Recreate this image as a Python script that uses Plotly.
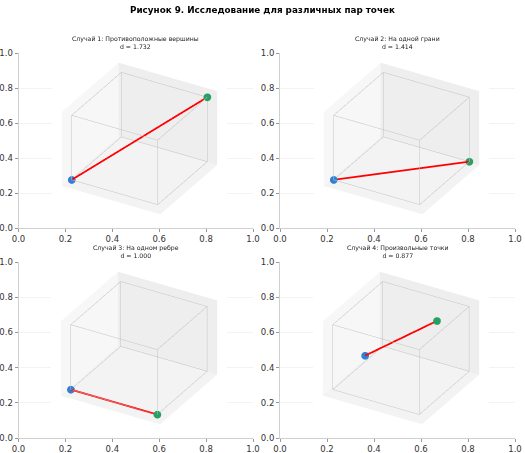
import numpy as np
import plotly.graph_objects as go

# ---------------- data ----------------
case_titles = [
    "Случай 1: Противоположные вершины",
    "Случай 2: На одной грани",
    "Случай 3: На одном ребре",
    "Случай 4: Произвольные точки",
]
start_x = [0.0, 0.0, 0.0, 0.2]
start_y = [0.0, 0.0, 0.0, 0.3]
start_z = [0.0, 0.0, 0.0, 0.4]
end_x = [1.0, 1.0, 1.0, 0.8]
end_y = [1.0, 1.0, 0.0, 0.7]
end_z = [1.0, 0.0, 0.0, 0.9]
cube_lo, cube_hi = 0.0, 1.0
tick_vals = [0.0, 0.2, 0.4, 0.6, 0.8, 1.0]
tick_text = ["0.0", "0.2", "0.4", "0.6", "0.8", "1.0"]
fig_title = "Рисунок 9. Исследование для различных пар точек"

# ---------------- layout geometry (pixels) ----------------
W, H = 525, 453
col_px = [(18.5, 253.0), (280.0, 515.0)]
row_px = [(53.0, 228.0), (262.0, 438.0)]
scene_dx, scene_dy = 3.5, -2.5   # small nudge of the 3D viewport (px)

def px_x(a, b):
    return [a / W, b / W]

def px_y(top, bottom):
    return [1 - bottom / H, 1 - top / H]

fig = go.Figure()

# cube edges
corners = [(x, y, z) for x in (cube_lo, cube_hi) for y in (cube_lo, cube_hi) for z in (cube_lo, cube_hi)]
ex, ey, ez = [], [], []
for i in range(len(corners)):
    for j in range(i + 1, len(corners)):
        a, b = corners[i], corners[j]
        if sum(1 for k in range(3) if a[k] != b[k]) == 1:
            ex += [a[0], b[0], None]
            ey += [a[1], b[1], None]
            ez += [a[2], b[2], None]

pad = 0.073
eye_dir = np.array([np.cos(np.radians(30)) * np.cos(np.radians(-60)),
                    np.cos(np.radians(30)) * np.sin(np.radians(-60)),
                    np.sin(np.radians(30))])
eye_k = 2.0
zoom = 1.3

annotations = []
for idx in range(4):
    r, c = divmod(idx, 2)
    n = idx + 1
    sfx = "" if n == 1 else str(n)
    x0, x1 = col_px[c]
    y0, y1 = row_px[r]
    # 2D background axes
    fig.add_trace(go.Scatter(x=[None], y=[None], xaxis="x" + sfx, yaxis="y" + sfx,
                             showlegend=False, hoverinfo="skip"))
    ax_common = dict(range=[0, 1], tickvals=tick_vals, ticktext=tick_text,
                     showgrid=True, gridcolor="#f3f3f3", gridwidth=1,
                     zeroline=False, showline=True, linecolor="#d0d0d0", linewidth=1,
                     ticks="outside", ticklen=3, tickcolor="#999999", tickwidth=1,
                     tickfont=dict(family="DejaVu Sans", size=8.5, color="#333333"),
                     fixedrange=True, automargin=False)
    fig.layout["xaxis" + sfx] = dict(domain=px_x(x0, x1), anchor="y" + sfx, **ax_common)
    fig.layout["yaxis" + sfx] = dict(domain=px_y(y0, y1), anchor="x" + sfx, **ax_common)

    # 3D scene (square, centered)
    side = y1 - y0
    cx = (x0 + x1) / 2
    scene_name = "scene" + sfx
    d = np.sqrt((end_x[idx] - start_x[idx]) ** 2 + (end_y[idx] - start_y[idx]) ** 2 + (end_z[idx] - start_z[idx]) ** 2)

    fig.add_trace(go.Scatter3d(x=ex, y=ey, z=ez, mode="lines", scene=scene_name,
                               line=dict(color="#c4c4c4", width=1), showlegend=False, hoverinfo="skip"))
    fig.add_trace(go.Scatter3d(x=[start_x[idx], end_x[idx]], y=[start_y[idx], end_y[idx]],
                               z=[start_z[idx], end_z[idx]], mode="lines", scene=scene_name,
                               line=dict(color="#ff0000", width=3.5), showlegend=False))
    fig.add_trace(go.Scatter3d(x=[start_x[idx]], y=[start_y[idx]], z=[start_z[idx]], mode="markers",
                               scene=scene_name, marker=dict(color="#2f80d6", size=4.5, line=dict(width=0)),
                               showlegend=False))
    fig.add_trace(go.Scatter3d(x=[end_x[idx]], y=[end_y[idx]], z=[end_z[idx]], mode="markers",
                               scene=scene_name, marker=dict(color="#27a063", size=4.5, line=dict(width=0)),
                               showlegend=False))

    def ax3(bg):
        return dict(range=[cube_lo - pad, cube_hi + pad], showbackground=True, backgroundcolor=bg,
                    showgrid=False, zeroline=False, showline=False, showticklabels=False,
                    ticks="", title=dict(text=""), showspikes=False)

    e = eye_dir * eye_k
    sx0 = cx - side / 2 + scene_dx
    fig.layout[scene_name] = dict(
        domain=dict(x=px_x(sx0, sx0 + side), y=px_y(y0 + scene_dy, y1 + scene_dy)),
        bgcolor="white",
        xaxis=ax3("#f7f7f7"), yaxis=ax3("#eeeeee"), zaxis=ax3("#f3f3f3"),
        aspectmode="manual", aspectratio=dict(x=zoom, y=zoom, z=0.75 * zoom),
        camera=dict(eye=dict(x=e[0], y=e[1], z=e[2]), up=dict(x=0, y=0, z=1),
                    center=dict(x=0, y=0, z=0), projection=dict(type="orthographic")),
    )
    annotations.append(dict(text=f"{case_titles[idx]}<br>d = {d:.3f}", x=cx / W, y=1 - (y0 - 1.5) / H,
                            xref="paper", yref="paper", xanchor="center", yanchor="bottom",
                            showarrow=False, font=dict(family="DejaVu Sans", size=6.2, color="#222222")))

annotations.append(dict(text=f"<b>{fig_title}</b>", x=0.5, y=1 - 3 / H, xref="paper", yref="paper",
                        xanchor="center", yanchor="top", showarrow=False,
                        font=dict(family="DejaVu Sans", size=8.8, color="black")))

fig.update_layout(width=W, height=H, margin=dict(l=0, r=0, t=0, b=0, autoexpand=False),
                  paper_bgcolor="white", plot_bgcolor="white", annotations=annotations,
                  showlegend=False)

fig.write_html("out.html", config={"displayModeBar": False},
               post_script="document.body.style.margin='0';")
